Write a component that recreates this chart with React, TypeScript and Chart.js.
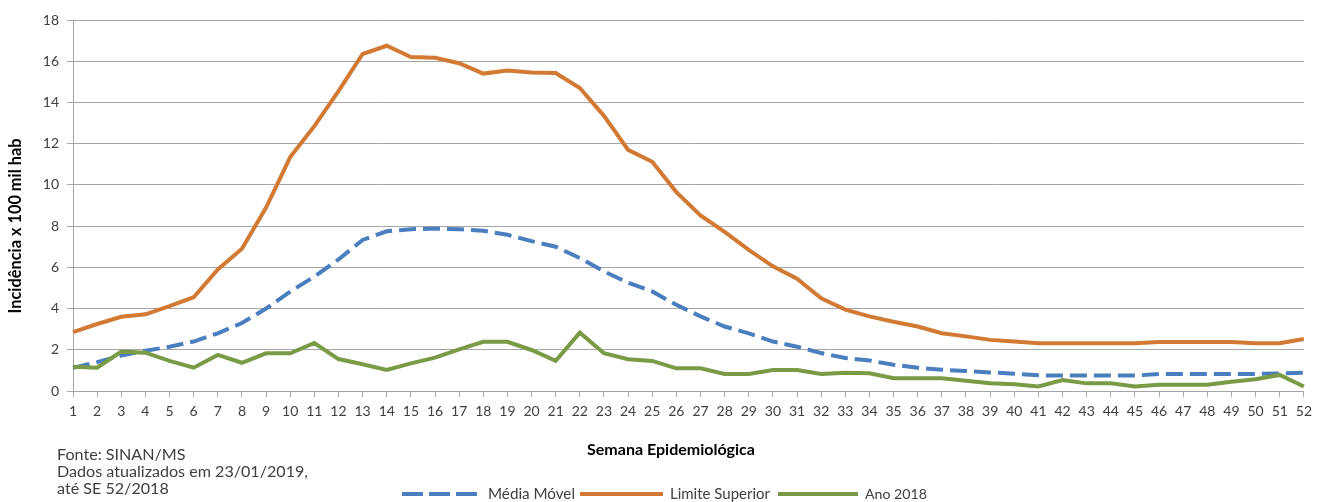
import React, { useEffect, useRef } from 'react';
import { Chart, registerables } from 'chart.js';

Chart.register(...registerables);

const weeks = ['1','2','3','4','5','6','7','8','9','10','11','12','13','14','15','16','17','18','19','20','21','22','23','24','25','26','27','28','29','30','31','32','33','34','35','36','37','38','39','40','41','42','43','44','45','46','47','48','49','50','51','52'];

const mediaMovel = [1.12, 1.4, 1.72, 1.95, 2.15, 2.4, 2.8, 3.3, 4.0, 4.82, 5.55, 6.38, 7.33, 7.75, 7.85, 7.88, 7.85, 7.77, 7.58, 7.27, 7.0, 6.45, 5.8, 5.25, 4.83, 4.18, 3.62, 3.13, 2.8, 2.4, 2.15, 1.84, 1.6, 1.48, 1.27, 1.13, 1.03, 0.97, 0.9, 0.84, 0.76, 0.75, 0.75, 0.75, 0.75, 0.82, 0.82, 0.83, 0.83, 0.83, 0.85, 0.89];

const limiteSuperior = [2.86, 3.25, 3.6, 3.72, 4.12, 4.55, 5.9, 6.9, 8.9, 11.35, 12.85, 14.55, 16.35, 16.75, 16.2, 16.17, 15.9, 15.4, 15.55, 15.45, 15.43, 14.7, 13.35, 11.7, 11.12, 9.65, 8.52, 7.72, 6.85, 6.05, 5.45, 4.5, 3.95, 3.62, 3.36, 3.13, 2.8, 2.65, 2.48, 2.4, 2.32, 2.32, 2.32, 2.32, 2.32, 2.38, 2.38, 2.38, 2.38, 2.32, 2.32, 2.52];

const ano2018 = [1.18, 1.13, 1.91, 1.86, 1.46, 1.13, 1.75, 1.37, 1.83, 1.83, 2.33, 1.55, 1.3, 1.02, 1.34, 1.62, 2.02, 2.39, 2.39, 1.99, 1.46, 2.83, 1.83, 1.54, 1.46, 1.1, 1.1, 0.83, 0.83, 1.02, 1.02, 0.83, 0.88, 0.86, 0.62, 0.62, 0.62, 0.5, 0.38, 0.33, 0.22, 0.53, 0.37, 0.37, 0.22, 0.3, 0.3, 0.3, 0.45, 0.57, 0.78, 0.22];

const seriesNames = ['Média Móvel', 'Limite Superior', 'Ano 2018'];
const seriesColors = ['#4A7EBF', '#D27A34', '#7A9A45'];

const yAxisTitle = 'Incidência x 100 mil hab';
const xAxisTitle = 'Semana Epidemiológica';
const footerLines = ['Fonte: SINAN/MS', 'Dados atualizados em 23/01/2019,', 'até SE 52/2018'];

const FONT = 'Lato, "Open Sans", sans-serif';

function fitFont(ctx: CanvasRenderingContext2D, text: string, width: number, weight: string) {
  ctx.font = `${weight} 20px ${FONT}`;
  const w = ctx.measureText(text).width;
  const size = (20 * width) / w;
  ctx.font = `${weight} ${size.toFixed(2)}px ${FONT}`;
}

const textPlugin = {
  id: 'customTexts',
  afterDraw(chart: any) {
    const ctx: CanvasRenderingContext2D = chart.ctx;
    ctx.save();
    ctx.textBaseline = 'middle';

    // Y axis title
    ctx.save();
    ctx.translate(16, 226);
    ctx.rotate(-Math.PI / 2);
    ctx.fillStyle = '#000000';
    ctx.textAlign = 'center';
    fitFont(ctx, yAxisTitle, 175, 'bold');
    ctx.fillText(yAxisTitle, 0, 0);
    ctx.restore();

    // X axis title
    ctx.fillStyle = '#000000';
    ctx.textAlign = 'center';
    fitFont(ctx, xAxisTitle, 168, 'bold');
    ctx.fillText(xAxisTitle, 671, 450);

    // Footer
    ctx.fillStyle = '#404040';
    ctx.textAlign = 'left';
    fitFont(ctx, footerLines[1], 251, 'normal');
    const ys = [455, 472, 489];
    footerLines.forEach((t, i) => ctx.fillText(t, 57, ys[i]));

    // Legend
    const ly = 494;
    const items = [
      { x0: 402, x1: 478, tx: 488, tw: 87, dash: [21, 6] },
      { x0: 580, x1: 663, tx: 670, tw: 100, dash: [] },
      { x0: 778, x1: 858, tx: 865, tw: 62, dash: [] },
    ];
    items.forEach((it, i) => {
      ctx.save();
      ctx.strokeStyle = seriesColors[i];
      ctx.lineWidth = 4;
      ctx.lineCap = 'butt';
      ctx.setLineDash(it.dash);
      ctx.beginPath();
      ctx.moveTo(it.x0, ly);
      ctx.lineTo(it.x1, ly);
      ctx.stroke();
      ctx.restore();
      ctx.fillStyle = '#404040';
      ctx.textAlign = 'left';
      fitFont(ctx, seriesNames[i], it.tw, 'normal');
      ctx.fillText(seriesNames[i], it.tx, ly);
    });
    ctx.restore();
  },
};

export default function App() {
  const canvasRef = useRef<HTMLCanvasElement | null>(null);

  useEffect(() => {
    document.body.style.margin = '0';
    const canvas = canvasRef.current;
    if (!canvas) return;
    const chart = new Chart(canvas, {
      type: 'line',
      data: {
        labels: weeks,
        datasets: [
          {
            label: seriesNames[0],
            data: mediaMovel,
            borderColor: seriesColors[0],
            backgroundColor: seriesColors[0],
            borderWidth: 4,
            borderDash: [17, 7],
            borderCapStyle: 'butt',
            pointRadius: 0,
            tension: 0,
            order: 3,
          },
          {
            label: seriesNames[1],
            data: limiteSuperior,
            borderColor: seriesColors[1],
            backgroundColor: seriesColors[1],
            borderWidth: 4,
            pointRadius: 0,
            tension: 0,
            order: 2,
          },
          {
            label: seriesNames[2],
            data: ano2018,
            borderColor: seriesColors[2],
            backgroundColor: seriesColors[2],
            borderWidth: 4,
            pointRadius: 0,
            tension: 0,
            order: 1,
          },
        ],
      },
      options: {
        responsive: false,
        animation: false,
        devicePixelRatio: 1,
        layout: { padding: { left: 0, top: 20, right: 12, bottom: 0 } },
        plugins: {
          legend: { display: false },
          title: { display: false },
          tooltip: { enabled: false },
        },
        scales: {
          x: {
            type: 'category',
            offset: false,
            grid: {
              drawOnChartArea: false,
              drawTicks: true,
              tickLength: 6,
              color: '#A6A6A6',
            },
            border: { display: true, color: '#A6A6A6', width: 1 },
            ticks: {
              autoSkip: false,
              maxRotation: 0,
              minRotation: 0,
              padding: 6,
              color: '#404040',
              font: { family: FONT, size: 14 },
            },
            afterFit: (scale: any) => {
              scale.height = 111;
            },
          },
          y: {
            min: 0,
            max: 18,
            ticks: {
              stepSize: 2,
              padding: 8,
              color: '#404040',
              font: { family: FONT, size: 14 },
            },
            grid: {
              color: '#A6A6A6',
              tickLength: 6,
              drawTicks: true,
            },
            border: { display: true, color: '#A6A6A6', width: 1 },
            afterFit: (scale: any) => {
              scale.width = 73;
            },
          },
        },
      },
      plugins: [textPlugin],
    } as any);
    return () => chart.destroy();
  }, []);

  return (
    <div style={{ width: 1318, height: 502, background: '#ffffff' }}>
      <canvas ref={canvasRef} width={1318} height={502} style={{ display: 'block', width: 1318, height: 502 }} />
    </div>
  );
}
